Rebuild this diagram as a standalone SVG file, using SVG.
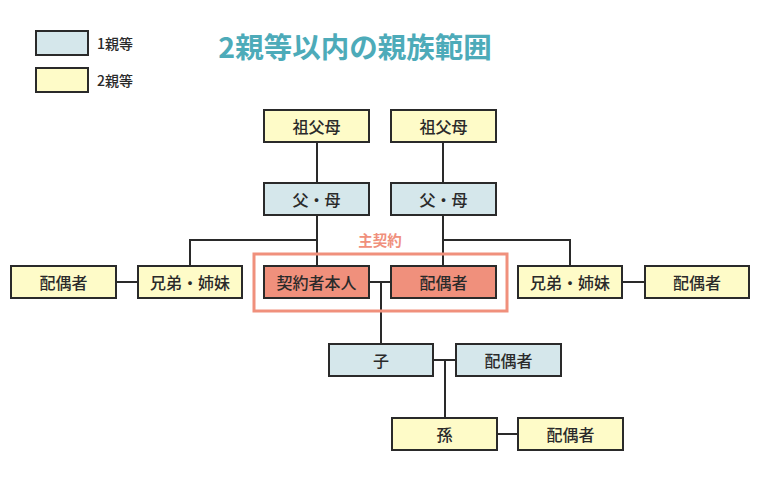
<svg xmlns="http://www.w3.org/2000/svg" width="760" height="480" viewBox="0 0 760 480">
<style>
.b{stroke:#2a2a2a;stroke-width:2}
.d1{fill:#d5e7eb}
.d2{fill:#fefbc8}
.m{fill:#f0907c}
.t{font-family:"Noto Sans CJK JP","Noto Sans",sans-serif;font-size:16px;font-weight:500;fill:#2a2a2a;text-anchor:middle;dominant-baseline:central}
.lg{font-family:"Noto Sans CJK JP","Noto Sans",sans-serif;font-size:14px;font-weight:500;fill:#2a2a2a;dominant-baseline:central}
.c{fill:none;stroke:#2a2a2a;stroke-width:2}
</style>
<rect width="760" height="480" fill="#fff"/>
<g id="legend">
<rect class="b d1" x="36" y="31" width="52" height="24"/>
<text class="lg" x="97" y="43">1親等</text>
<rect class="b d2" x="36" y="68" width="52" height="24"/>
<text class="lg" x="97" y="80">2親等</text>
</g>
<text x="355" y="45" font-family="Noto Sans CJK JP,Noto Sans,sans-serif" font-size="28.5" font-weight="bold" fill="#4dabb9" text-anchor="middle" dominant-baseline="central">2親等以内の親族範囲</text>
<g id="connectors">
<path class="c" d="M317 142V183M443 142V183M317 215V266M443 215V266M190 266V240H317M570 266V240H443M116 282H138M622 282H645M369 282H391M381 282V344M433 360H456M445 360V418M497 434H518"/>
</g>
<g id="main-contract">
<rect x="254" y="254" width="253" height="57" fill="none" stroke="#f0907c" stroke-width="3"/>
<text x="380" y="239" font-family="Noto Sans CJK JP,Noto Sans,sans-serif" font-size="14.5" font-weight="bold" fill="#f0907c" text-anchor="middle" dominant-baseline="central">主契約</text>
</g>
<g id="gp-left"><rect class="b d2" x="264" y="110" width="105" height="32"/><text class="t" x="316.5" y="126">祖父母</text></g>
<g id="gp-right"><rect class="b d2" x="391" y="110" width="105" height="32"/><text class="t" x="443.5" y="126">祖父母</text></g>
<g id="parent-left"><rect class="b d1" x="264" y="183" width="105" height="32"/><text class="t" x="316.5" y="199">父・母</text></g>
<g id="parent-right"><rect class="b d1" x="391" y="183" width="105" height="32"/><text class="t" x="443.5" y="199">父・母</text></g>
<g id="sib-spouse-left"><rect class="b d2" x="11" y="266" width="105" height="32"/><text class="t" x="63.5" y="282">配偶者</text></g>
<g id="sib-left"><rect class="b d2" x="138" y="266" width="104" height="32"/><text class="t" x="190" y="282">兄弟・姉妹</text></g>
<g id="self"><rect class="b m" x="264" y="266" width="105" height="32"/><text class="t" x="316.5" y="282">契約者本人</text></g>
<g id="spouse"><rect class="b m" x="391" y="266" width="105" height="32"/><text class="t" x="443.5" y="282">配偶者</text></g>
<g id="sib-right"><rect class="b d2" x="518" y="266" width="104" height="32"/><text class="t" x="570" y="282">兄弟・姉妹</text></g>
<g id="sib-spouse-right"><rect class="b d2" x="645" y="266" width="104" height="32"/><text class="t" x="697" y="282">配偶者</text></g>
<g id="child"><rect class="b d1" x="329" y="344" width="104" height="32"/><text class="t" x="381" y="360">子</text></g>
<g id="child-spouse"><rect class="b d1" x="456" y="344" width="105" height="32"/><text class="t" x="508.5" y="360">配偶者</text></g>
<g id="grandchild"><rect class="b d2" x="392" y="418" width="105" height="32"/><text class="t" x="444.5" y="434">孫</text></g>
<g id="grandchild-spouse"><rect class="b d2" x="518" y="418" width="105" height="32"/><text class="t" x="570.5" y="434">配偶者</text></g>
</svg>
